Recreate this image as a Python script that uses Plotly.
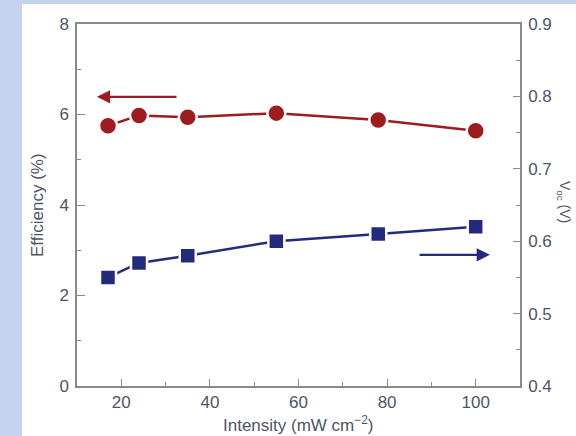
import plotly.graph_objects as go

intensity = [17, 24, 35, 55, 78, 100]
efficiency = [5.75, 5.98, 5.94, 6.03, 5.88, 5.64]
voc = [0.55, 0.57, 0.58, 0.60, 0.61, 0.62]

RED = "#9e1b20"
BLUE = "#232c7c"
AX = "#8a8a8a"
TXT = "#4d5566"
FONT = "Liberation Sans"
TICKFONT = dict(family=FONT, color=TXT, size=17)

fig = go.Figure()
fig.add_trace(go.Scatter(
    x=intensity, y=efficiency, mode="lines+markers",
    line=dict(color=RED, width=2.5),
    marker=dict(symbol="circle", size=18, color=RED, line=dict(color="white", width=2.5)),
    yaxis="y", showlegend=False))
fig.add_trace(go.Scatter(
    x=intensity, y=voc, mode="lines+markers",
    line=dict(color=BLUE, width=2.5),
    marker=dict(symbol="square", size=16, color=BLUE, line=dict(color="white", width=2.5)),
    yaxis="y2", showlegend=False))

W, H = 576, 436
ml, mr, mt, mb = 77, 56, 24, 50
pw, ph = W - ml - mr, H - mt - mb

def px2x(p):
    return (p - ml) / pw

def py2y(p):
    return (H - mb - p) / ph

fig.update_layout(
    width=W, height=H,
    margin=dict(l=ml, r=mr, t=mt, b=mb, pad=0),
    paper_bgcolor="#c5d4ee", plot_bgcolor="white",
    font=dict(family=FONT, color=TXT, size=17),
    shapes=[dict(type="rect", xref="paper", yref="paper", layer="below",
                 x0=px2x(22), x1=px2x(600), y0=py2y(460), y1=py2y(4),
                 fillcolor="white", line=dict(width=0))],
    xaxis=dict(range=[10, 110], tickvals=[20, 40, 60, 80, 100], tickfont=TICKFONT,
               ticks="inside", ticklen=7, tickwidth=1, tickcolor=AX,
               minor=dict(tickvals=[30, 50, 70, 90], ticks="inside", ticklen=4, tickcolor=AX),
               showline=True, linecolor=AX, linewidth=1.5, mirror=True,
               showgrid=False, zeroline=False, ticklabelstandoff=0),
    yaxis=dict(range=[0, 8], tickvals=[0, 2, 4, 6, 8], tickfont=TICKFONT,
               ticks="inside", ticklen=8, tickwidth=1, tickcolor=AX,
               minor=dict(tickvals=[1, 3, 5, 7], ticks="inside", ticklen=4, tickcolor=AX),
               showline=True, linecolor=AX, linewidth=1.5,
               showgrid=False, zeroline=False, ticklabelstandoff=3),
    yaxis2=dict(range=[0.4, 0.9], tickvals=[0.4, 0.5, 0.6, 0.7, 0.8, 0.9],
                ticktext=["0.4", "0.5", "0.6", "0.7", "0.8", "0.9"], tickfont=TICKFONT,
                overlaying="y", side="right",
                ticks="inside", ticklen=7, tickwidth=1, tickcolor=AX,
                minor=dict(tickvals=[0.45, 0.55, 0.65, 0.75, 0.85], ticks="inside", ticklen=4, tickcolor=AX),
                showline=True, linecolor=AX, linewidth=1.5,
                showgrid=False, zeroline=False, ticklabelstandoff=3),
)

# axis titles
fig.add_annotation(x=px2x(37), y=py2y(205), xref="paper", yref="paper", showarrow=False,
                   xanchor="center", yanchor="middle",
                   text="Efficiency (%)", textangle=-90, font=dict(size=17, color=TXT))
fig.add_annotation(x=px2x(298), y=py2y(424), xref="paper", yref="paper", showarrow=False,
                   xanchor="center", yanchor="middle",
                   text="Intensity (mW cm<sup>−2</sup>)", font=dict(size=17, color=TXT))
fig.add_annotation(x=px2x(564), y=py2y(202), xref="paper", yref="paper", showarrow=False,
                   xanchor="center", yanchor="middle",
                   text="V<sub>oc</sub> (V)", textangle=90, font=dict(size=14, color=TXT))

# direction arrows
fig.add_annotation(x=14.5, y=6.39, ax=32.8, ay=6.39, xref="x", yref="y", axref="x", ayref="y",
                   text="", showarrow=True, arrowhead=2, arrowsize=1.2, arrowwidth=2.2, arrowcolor=RED)
fig.add_annotation(x=103.2, y=2.9, ax=87, ay=2.9, xref="x", yref="y", axref="x", ayref="y",
                   text="", showarrow=True, arrowhead=2, arrowsize=1.2, arrowwidth=2.2, arrowcolor=BLUE)

fig.write_html("out.html")
